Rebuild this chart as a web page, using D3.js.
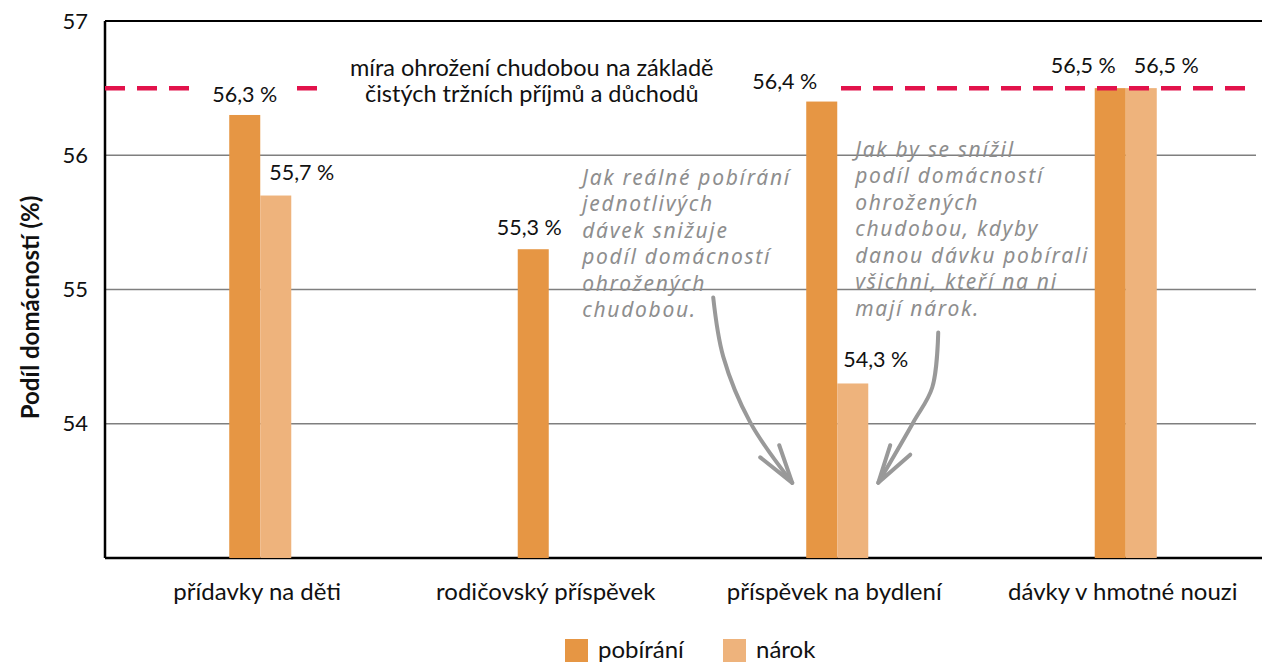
<!DOCTYPE html>
<html>
<head>
<meta charset="utf-8">
<script src="https://cdn.jsdelivr.net/npm/d3@7"></script>
<style>
  body { margin: 0; background: #fff; }
  svg { display: block; font-family: Lato, "Open Sans", sans-serif; }
</style>
</head>
<body>
<svg id="chart" width="1262" height="662"></svg>
<script>
// data
const categories = ["přídavky na děti", "rodičovský příspěvek", "příspěvek na bydlení", "dávky v hmotné nouzi"];
const series = ["pobírání", "nárok"];
const pobirani = [56.3, 55.3, 56.4, 56.5];
const narok = [55.7, null, 54.3, 56.5];
const yTicks = [54, 55, 56, 57];
const povertyLine = 56.5;
const povertyLabel = ["míra ohrožení chudobou na základě", "čistých tržních příjmů a důchodů"];
const noteLeft = ["Jak reálné pobírání", "jednotlivých", "dávek snižuje", "podíl domácností", "ohrožených", "chudobou."];
const noteRight = ["Jak by se snížil", "podíl domácností", "ohrožených", "chudobou, kdyby", "danou dávku pobírali", "všichni, kteří na ni", "mají nárok."];

// label nudges (px) so value labels sit where the original put them
const labelShift = {
  "pobírání": [[0, -13], [-4, -14], [-37, -13], [-27, -15]],
  "nárok": [[26, -16], null, [23, -16], [25, -15]]
};

const colors = { "pobírání": "#e69644", "nárok": "#eeb37c" };

const svg = d3.select("#chart");
const margin = { top: 21, right: 6, bottom: 104, left: 105 };
const width = +svg.attr("width") - margin.left - margin.right;
const height = +svg.attr("height") - margin.top - margin.bottom;

const x0 = d3.scaleBand()
  .domain(categories)
  .range([11, width + 14])
  .paddingInner(0.785)
  .paddingOuter(0.3925);
const x1 = d3.scaleBand().domain(series).range([0, x0.bandwidth()]);
const y = d3.scaleLinear().domain([53, 57]).range([height, 0]);

const g = svg.append("g").attr("transform", `translate(${margin.left},${margin.top})`);
const gridLayer = g.append("g");
const barLayer = g.append("g");
const lineLayer = g.append("g");
const maskLayer = g.append("g");
const textLayer = g.append("g");

// grid
gridLayer.selectAll("line.grid")
  .data(yTicks.filter(d => d < 57))
  .join("line")
    .attr("class", "grid")
    .attr("x1", 0).attr("x2", width)
    .attr("y1", d => y(d)).attr("y2", d => y(d))
    .attr("stroke", "#7f7f7f").attr("stroke-width", 1.5);

// frame: top, left, bottom
gridLayer.append("line").attr("x1", 0).attr("x2", width + margin.right).attr("y1", 0).attr("y2", 0)
  .attr("stroke", "#000").attr("stroke-width", 2);
gridLayer.append("line").attr("x1", 0).attr("x2", 0).attr("y1", 0).attr("y2", height)
  .attr("stroke", "#000").attr("stroke-width", 2.5);
gridLayer.append("line").attr("x1", 0).attr("x2", width + margin.right).attr("y1", height).attr("y2", height)
  .attr("stroke", "#000").attr("stroke-width", 2.5);

// y tick labels
textLayer.selectAll("text.tick")
  .data(yTicks)
  .join("text")
    .attr("class", "tick")
    .attr("x", -17)
    .attr("y", d => y(d))
    .attr("dy", "0.35em")
    .attr("text-anchor", "end")
    .attr("font-size", "22px")
    .attr("fill", "#111")
    .text(d => d);

// y title
svg.append("text")
  .attr("transform", `translate(39,${margin.top + height / 2 + 18}) rotate(-90)`)
  .attr("text-anchor", "middle")
  .attr("font-size", "24px")
  .attr("font-weight", "bold")
  .attr("fill", "#111")
  .text("Podíl domácností (%)");

// bars
const barData = [];
categories.forEach((c, i) => {
  barData.push({ cat: c, s: "pobírání", v: pobirani[i], i });
  barData.push({ cat: c, s: "nárok", v: narok[i], i });
});
const bars = barData.filter(d => d.v != null);

barLayer.selectAll("rect.bar")
  .data(bars)
  .join("rect")
    .attr("class", "bar")
    .attr("x", d => x0(d.cat) + x1(d.s))
    .attr("y", d => y(d.v))
    .attr("width", x1.bandwidth())
    .attr("height", d => height - y(d.v))
    .attr("fill", d => colors[d.s]);

// poverty line
lineLayer.append("line")
  .attr("x1", 0).attr("x2", width - 6)
  .attr("y1", y(povertyLine)).attr("y2", y(povertyLine))
  .attr("stroke", "#e2124b")
  .attr("stroke-width", 4.5)
  .attr("stroke-dasharray", "20,12");

// poverty line label (two separate lines) on a white box
const plX = (x0(categories[1]) + x0.bandwidth() / 2) - 17;
let plMinX = Infinity, plMaxX = -Infinity;
povertyLabel.forEach((t, i) => {
  const node = textLayer.append("text")
    .attr("x", plX)
    .attr("y", y(povertyLine) - 12 + i * 26)
    .attr("text-anchor", "middle")
    .attr("font-size", "23.5px")
    .attr("fill", "#111")
    .text(t).node();
  const b = node.getBBox();
  plMinX = Math.min(plMinX, b.x);
  plMaxX = Math.max(plMaxX, b.x + b.width);
});
maskLayer.append("rect")
  .attr("x", plMinX - 22).attr("y", y(povertyLine) - 6)
  .attr("width", plMaxX - plMinX + 44).attr("height", 12)
  .attr("fill", "#fff");

// value labels
const fmt = v => d3.format(".1f")(v).replace(".", ",") + " %";
bars.forEach(d => {
  const [dx, dy] = labelShift[d.s][d.i];
  const cx = x0(d.cat) + x1(d.s) + x1.bandwidth() / 2 + dx;
  const cy = y(d.v) + dy;
  const t = textLayer.append("text")
    .attr("x", cx).attr("y", cy)
    .attr("text-anchor", "middle")
    .attr("font-size", "21.5px")
    .attr("fill", "#111")
    .text(fmt(d.v));
  const b = t.node().getBBox();
  const ly = y(povertyLine);
  if (b.y < ly + 4 && b.y + b.height > ly - 4 && d.v < povertyLine) {
    maskLayer.append("rect")
      .attr("x", b.x - 16).attr("y", ly - 6)
      .attr("width", b.width + 32).attr("height", 12)
      .attr("fill", "#fff");
  }
});

// handwritten notes
const noteColor = "#8e8e8e";
function note(lines, xStart, vTop) {
  const t = textLayer.append("text")
    .attr("font-size", "21px")
    .attr("font-style", "italic")
    .attr("letter-spacing", "1.7px")
    .attr("font-family", "'Noto Sans', sans-serif")
    .attr("fill", noteColor);
  lines.forEach((s, i) => {
    t.append("tspan").attr("x", xStart).attr("y", y(vTop) + i * 26.5).text(s);
  });
}
const bydleni = x0(categories[2]);
note(noteLeft, bydleni - 224, 55.78);
note(noteRight, bydleni + 49, 55.99);

// arrows, given as [offset from band start, value]
const arrowLeft = [[-93, 54.94], [-83, 54.50], [-56, 54.01], [-14, 53.56]];
const arrowLeftHead = [[-46, 53.75], [-14, 53.56], [-27, 53.84]];
const arrowRight = [[132, 54.68], [126, 54.27], [107, 54.01], [72, 53.56]];
const arrowRightHead = [[84, 53.84], [72, 53.56], [104, 53.77]];

const pt = d3.line()
  .x(d => bydleni + d[0])
  .y(d => y(d[1]));
[arrowLeft, arrowRight].forEach(a => {
  textLayer.append("path")
    .attr("d", pt.curve(d3.curveCatmullRom)(a))
    .attr("fill", "none")
    .attr("stroke", "#999")
    .attr("stroke-width", 4)
    .attr("stroke-linecap", "round");
});
[arrowLeftHead, arrowRightHead].forEach(a => {
  textLayer.append("path")
    .attr("d", pt.curve(d3.curveLinear)(a))
    .attr("fill", "none")
    .attr("stroke", "#999")
    .attr("stroke-width", 4)
    .attr("stroke-linecap", "round")
    .attr("stroke-linejoin", "round");
});

// category labels
textLayer.selectAll("text.cat")
  .data(categories)
  .join("text")
    .attr("class", "cat")
    .attr("x", d => x0(d) + x0.bandwidth() / 2 - 3)
    .attr("y", height + 42)
    .attr("text-anchor", "middle")
    .attr("font-size", "24px")
    .attr("fill", "#111")
    .text(d => d);

// legend
const legend = svg.append("g").attr("transform", "translate(565,639)");
const legendX = [0, 158];
series.forEach((s, i) => {
  const lg = legend.append("g").attr("transform", `translate(${legendX[i]},0)`);
  lg.append("rect").attr("width", 23).attr("height", 23).attr("fill", colors[s]);
  lg.append("text").attr("x", 33).attr("y", 19)
    .attr("font-size", "24px").attr("fill", "#111").text(s);
});
</script>
</body>
</html>
